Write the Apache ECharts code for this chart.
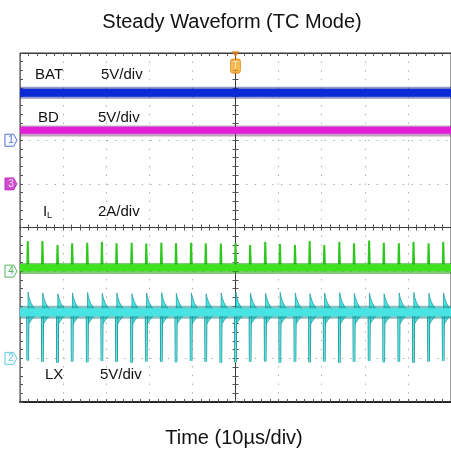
<!DOCTYPE html>
<html>
<head>
<meta charset="utf-8">
<script src="https://cdn.jsdelivr.net/npm/echarts@6/dist/echarts.min.js"></script>
<style>
html, body { margin: 0; padding: 0; background: #fff; }
#main { width: 451px; height: 452px; }
</style>
</head>
<body>
<div id="main"></div>
<script>
// time relative to trigger (us), vertical in divisions
var timeRange = [-50, 50];
var divRange = [-4, 4];

// trace levels (div): BAT, BD, IL, LX
var traceLevels = [3.09, 2.23, -0.92, -1.94];

// switching events (us)
var spikeTimes = [-48.2, -44.8, -41.3, -37.9, -34.4, -31.0, -27.6, -24.1, -20.7, -17.2,
    -13.8, -10.3, -6.9, -3.4, 0.0, 3.4, 6.9, 10.3, 13.8, 17.2,
    20.6, 24.1, 27.5, 31.0, 34.4, 37.9, 41.3, 44.8, 48.2];
var ilPeaks = [-0.31, -0.31, -0.40, -0.36, -0.35, -0.33, -0.36, -0.35, -0.37, -0.35,
    -0.36, -0.35, -0.36, -0.37, -0.36, -0.40, -0.33, -0.38, -0.40, -0.31,
    -0.40, -0.33, -0.36, -0.30, -0.35, -0.36, -0.33, -0.36, -0.33];
var lxPeaks = [-1.48, -1.50, -1.52, -1.50, -1.49, -1.51, -1.50, -1.52, -1.50, -1.49,
    -1.51, -1.50, -1.52, -1.50, -1.48, -1.50, -1.51, -1.49, -1.50, -1.52,
    -1.50, -1.49, -1.51, -1.50, -1.52, -1.50, -1.49, -1.51, -1.50];
var lxDips = [-3.05, -3.08, -3.10, -3.07, -3.09, -3.06, -3.08, -3.10, -3.07, -3.08,
    -3.09, -3.06, -3.08, -3.10, -3.09, -3.08, -3.07, -3.10, -3.08, -3.09,
    -3.07, -3.10, -3.08, -3.06, -3.09, -3.08, -3.10, -3.07, -3.06];
// ringing after each LX edge: [dt us, dv div from LX level]
var lxRingUpper = [[0.3, 0.33], [0.7, 0.22], [1.2, 0.13], [1.8, 0.05], [2.4, 0]];
var lxRingLower = [[1.8, -0.07], [1.2, -0.13], [0.7, -0.20], [0.3, -0.26], [0.05, -0.30]];

// channel ground markers: label, level (div)
var chMarkers = [['1', 2], ['3', 1], ['4', -1], ['2', -3]];
var chColors = { '1': '#3050c8', '3': '#c020c0', '4': '#2fa82f', '2': '#3ec6d6' };

var FONT = '"Liberation Sans", Arial, sans-serif';
var chart = echarts.init(document.getElementById('main'));

var spikeData = [];
for (var i = 0; i < spikeTimes.length; i++) {
    spikeData.push([spikeTimes[i], ilPeaks[i], lxPeaks[i], lxDips[i]]);
}

function flat(level) {
    return [[timeRange[0], level], [timeRange[1], level]];
}

function bandSeries(level, width, color, opacity) {
    return {
        type: 'line', xAxisIndex: 0, yAxisIndex: 0,
        data: flat(level), showSymbol: false, silent: true,
        lineStyle: { width: width, color: color, opacity: opacity }
    };
}

var markerData = chMarkers.map(function (m) {
    var c = chColors[m[0]];
    var filled = m[0] === '3';
    return {
        value: [-52.1, m[1]],
        itemStyle: { color: filled ? c : '#f4f8ff', borderColor: c, borderWidth: 1 },
        label: { show: true, formatter: m[0], color: filled ? '#fff' : c, fontSize: 10, fontFamily: FONT }
    };
});

var dotted = { color: '#a0a0a0', width: 1, type: [1.2, 7.5] };
var frame = { color: '#3a3a3a', width: 1 };
var tickStyle = { color: '#555', width: 1 };

var option = {
    animation: false,
    grid: [
        { left: 20, top: 53, width: 435, height: 349, show: false },
        { left: 20, top: 53, width: 435, height: 349, show: true, borderColor: '#3a3a3a', borderWidth: 1 }
    ],
    xAxis: [
        { gridIndex: 0, type: 'value', min: timeRange[0], max: timeRange[1], interval: 10, position: 'bottom',
          axisLine: { onZero: true, lineStyle: frame },
          axisTick: { show: true, length: 3, lineStyle: tickStyle },
          minorTick: { show: true, splitNumber: 5, length: 3, lineStyle: tickStyle },
          axisLabel: { show: false }, splitLine: { show: true, lineStyle: dotted } },
        { gridIndex: 0, type: 'value', min: timeRange[0], max: timeRange[1], interval: 10, position: 'top',
          axisLine: { onZero: true, lineStyle: frame },
          axisTick: { show: true, length: 3, lineStyle: tickStyle },
          minorTick: { show: true, splitNumber: 5, length: 3, lineStyle: tickStyle },
          axisLabel: { show: false }, splitLine: { show: false } },
        { gridIndex: 1, type: 'value', min: timeRange[0], max: timeRange[1], interval: 10, position: 'bottom',
          axisLine: { onZero: false, lineStyle: { color: '#2a2a2a', width: 2 } },
          axisTick: { show: true, inside: true, length: 3, lineStyle: tickStyle },
          minorTick: { show: true, splitNumber: 5, length: 3, lineStyle: tickStyle },
          axisLabel: { show: false }, splitLine: { show: false } },
        { gridIndex: 1, type: 'value', min: timeRange[0], max: timeRange[1], interval: 10, position: 'top',
          axisLine: { onZero: false, lineStyle: frame },
          axisTick: { show: true, inside: true, length: 3, lineStyle: tickStyle },
          minorTick: { show: true, splitNumber: 5, length: 3, lineStyle: tickStyle },
          axisLabel: { show: false }, splitLine: { show: false } }
    ],
    yAxis: [
        { gridIndex: 0, type: 'value', min: divRange[0], max: divRange[1], interval: 1, position: 'left',
          axisLine: { show: true, onZero: true, lineStyle: frame },
          axisTick: { show: true, length: 3, lineStyle: tickStyle },
          minorTick: { show: true, splitNumber: 5, length: 3, lineStyle: tickStyle },
          axisLabel: { show: false }, splitLine: { show: true, lineStyle: dotted } },
        { gridIndex: 0, type: 'value', min: divRange[0], max: divRange[1], interval: 1, position: 'right',
          axisLine: { show: true, onZero: true, lineStyle: frame },
          axisTick: { show: true, length: 3, lineStyle: tickStyle },
          minorTick: { show: true, splitNumber: 5, length: 3, lineStyle: tickStyle },
          axisLabel: { show: false }, splitLine: { show: false } },
        { gridIndex: 1, type: 'value', min: divRange[0], max: divRange[1], interval: 1, position: 'left',
          axisLine: { show: true, onZero: false, lineStyle: { color: '#777', width: 1 } },
          axisTick: { show: true, inside: true, length: 3, lineStyle: tickStyle },
          minorTick: { show: true, splitNumber: 5, length: 3, lineStyle: tickStyle },
          axisLabel: { show: false }, splitLine: { show: false } }
    ],
    series: [
        // BAT
        bandSeries(traceLevels[0], 12, '#14208a', 0.45),
        bandSeries(traceLevels[0], 8, '#0b2ad6', 1),
        // BD
        bandSeries(traceLevels[1] - 0.02, 11, '#6a1a6a', 0.4),
        bandSeries(traceLevels[1], 7, '#e01fd6', 1),
        // IL
        bandSeries(traceLevels[2] - 0.02, 11, '#1f9a14', 0.55),
        bandSeries(traceLevels[2], 7, '#3ee21f', 1),
        {
            type: 'custom', xAxisIndex: 0, yAxisIndex: 0, data: spikeData, silent: true,
            renderItem: function (params, api) {
                var t = api.value(0), p = api.value(1);
                var base = traceLevels[2];
                return {
                    type: 'polyline',
                    shape: { points: [api.coord([t - 0.12, base]), api.coord([t, p]), api.coord([t + 0.16, base])] },
                    style: { stroke: '#2cc81c', lineWidth: 2, fill: null }
                };
            }
        },
        // LX
        bandSeries(traceLevels[3], 13, '#1f8e8e', 0.55),
        bandSeries(traceLevels[3], 8, '#48e4e4', 1),
        {
            type: 'custom', xAxisIndex: 0, yAxisIndex: 0, data: spikeData, silent: true,
            renderItem: function (params, api) {
                var t = api.value(0), pk = api.value(2), dip = api.value(3);
                var base = traceLevels[3];
                var pts = [api.coord([t + 0.08, pk])];
                lxRingUpper.concat(lxRingLower).forEach(function (d) {
                    pts.push(api.coord([t + d[0], base + d[1]]));
                });
                var dipPts = [api.coord([t - 0.05, base]), api.coord([t, dip]), api.coord([t + 0.08, base])];
                return {
                    type: 'group',
                    children: [
                        { type: 'polygon', shape: { points: pts },
                          style: { fill: '#4ae6e6', stroke: '#22a0a0', lineWidth: 0.8 } },
                        { type: 'polyline', shape: { points: dipPts },
                          style: { stroke: '#1f9292', lineWidth: 2.6, fill: null } },
                        { type: 'polyline', shape: { points: dipPts },
                          style: { stroke: '#5ee6e6', lineWidth: 0.9, fill: null } }
                    ]
                };
            }
        },
        // channel markers
        {
            type: 'scatter', xAxisIndex: 0, yAxisIndex: 0, clip: false, silent: true,
            symbol: 'path://M0,0 L8,0 L11,5 L8,10 L0,10 Z', symbolSize: [12, 12],
            data: markerData
        },
        // trigger marker
        {
            type: 'scatter', xAxisIndex: 0, yAxisIndex: 0, clip: false, silent: true,
            data: [
                { value: [0, 3.97], symbol: 'triangle', symbolRotate: 180, symbolSize: [8, 6], itemStyle: { color: '#e07a10' } },
                { value: [0, 3.70], symbol: 'roundRect', symbolSize: [10, 14],
                  itemStyle: { color: '#f5a623', borderColor: '#e08a10', borderWidth: 1 },
                  label: { show: true, formatter: 'T', color: '#fff', fontSize: 10, fontFamily: FONT } }
            ]
        }
    ],
    graphic: [
        { type: 'text', x: 232, y: 22, style: { text: 'Steady Waveform (TC Mode)', font: '20px ' + FONT, fill: '#111', align: 'center', verticalAlign: 'middle' } },
        { type: 'text', x: 234, y: 438, style: { text: 'Time (10\u00b5s/div)', font: '20px ' + FONT, fill: '#111', align: 'center', verticalAlign: 'middle' } },
        { type: 'text', x: 35, y: 75, style: { text: 'BAT', font: '15px ' + FONT, fill: '#111', verticalAlign: 'middle' } },
        { type: 'text', x: 101, y: 75, style: { text: '5V/div', font: '15px ' + FONT, fill: '#111', verticalAlign: 'middle' } },
        { type: 'text', x: 38, y: 118, style: { text: 'BD', font: '15px ' + FONT, fill: '#111', verticalAlign: 'middle' } },
        { type: 'text', x: 98, y: 118, style: { text: '5V/div', font: '15px ' + FONT, fill: '#111', verticalAlign: 'middle' } },
        { type: 'text', x: 43, y: 212, style: { text: 'I', font: '15px ' + FONT, fill: '#111', verticalAlign: 'middle' } },
        { type: 'text', x: 47, y: 216, style: { text: 'L', font: '9px ' + FONT, fill: '#111', verticalAlign: 'middle' } },
        { type: 'text', x: 98, y: 212, style: { text: '2A/div', font: '15px ' + FONT, fill: '#111', verticalAlign: 'middle' } },
        { type: 'text', x: 45, y: 375, style: { text: 'LX', font: '15px ' + FONT, fill: '#111', verticalAlign: 'middle' } },
        { type: 'text', x: 100, y: 375, style: { text: '5V/div', font: '15px ' + FONT, fill: '#111', verticalAlign: 'middle' } }
    ]
};

chart.setOption(option);
</script>
</body>
</html>
